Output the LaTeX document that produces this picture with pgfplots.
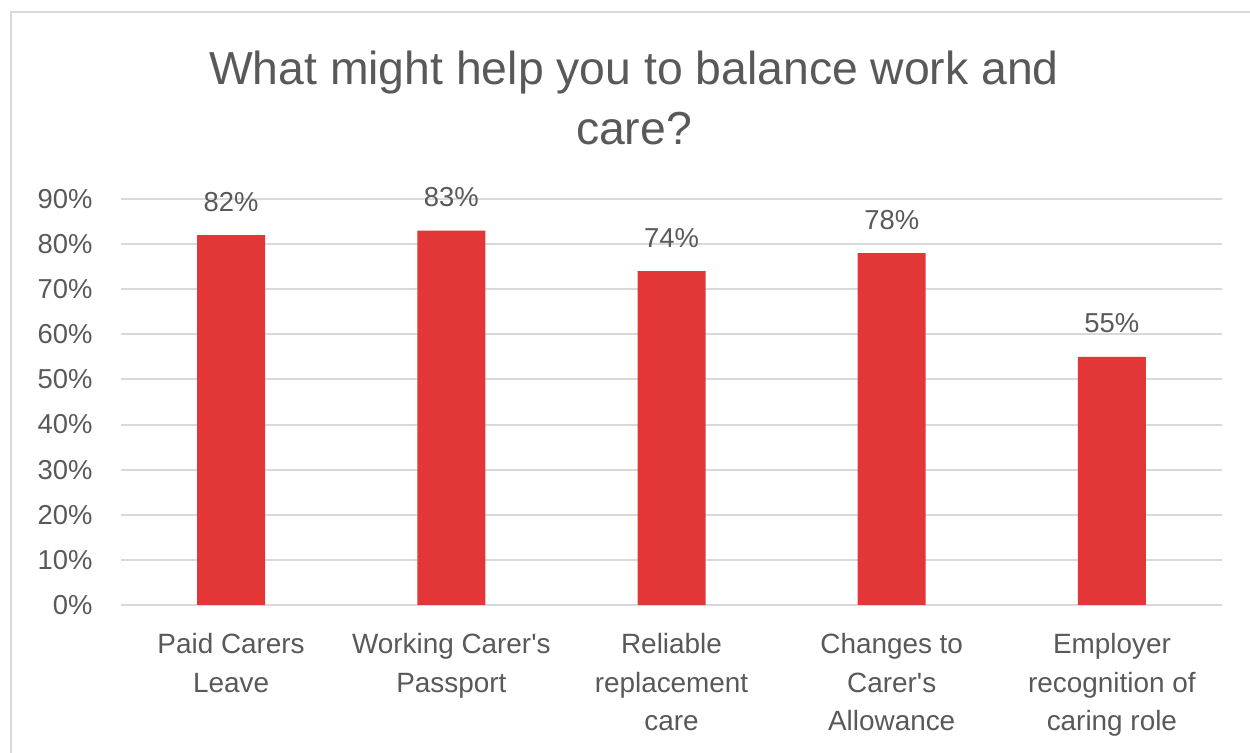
\documentclass[border=0pt]{standalone}
\usepackage{pgfplots}
\pgfplotsset{compat=1.18}
\usepackage{fontspec}
\setmainfont{Liberation Sans}
\definecolor{txt}{HTML}{595959}
\definecolor{grd}{HTML}{D9D9D9}
\definecolor{bar}{HTML}{E33737}
\begin{document}
\begin{tikzpicture}[x=1bp,y=1bp]
\useasboundingbox (0,0) rectangle (1250,753);
\fill[white] (0,0) rectangle (1250,753);
\draw[grd, line width=2.5bp] (11,0) -- (11,741) -- (1250,741);
\node[txt, align=center, font=\fontsize{46.5}{60}\selectfont] at (634,655) {What might help you to balance work and\\care?};
\begin{axis}[
  at={(121bp,148bp)}, anchor=south west,
  scale only axis, width=1101bp, height=406bp,
  xmin=-0.5, xmax=4.5, ymin=0, ymax=90,
  axis line style={draw=none},
  major tick style={draw=none},
  ymajorgrids, grid style={grd, line width=2bp},
  ytick={0,10,...,90},
  yticklabels={0\%,10\%,20\%,30\%,40\%,50\%,60\%,70\%,80\%,90\%},
  yticklabel style={txt, font=\fontsize{27.5}{30}\selectfont, xshift=-25bp},
  xtick={0,1,2,3,4},
  xticklabels={{Paid Carers\\Leave},{Working Carer\textquotesingle s\\Passport},{Reliable\\replacement\\care},{Changes to\\Carer\textquotesingle s\\Allowance},{Employer\\recognition of\\caring role}},
  xticklabel style={txt, align=center, font=\fontsize{28}{38.5}\selectfont, yshift=-21bp},
  ybar, bar width=68bp,
  /pgf/number format/assume math mode=true,
  nodes near coords={\pgfmathprintnumber{\pgfplotspointmeta}\%},
  every node near coord/.append style={txt, font=\fontsize{27.5}{30}\selectfont, anchor=base, inner sep=0pt, yshift=24bp},
  clip=false,
]
\addplot[fill=bar, draw=none] coordinates {(0,82) (1,83) (2,74) (3,78) (4,55)};
\end{axis}
\end{tikzpicture}
\end{document}
